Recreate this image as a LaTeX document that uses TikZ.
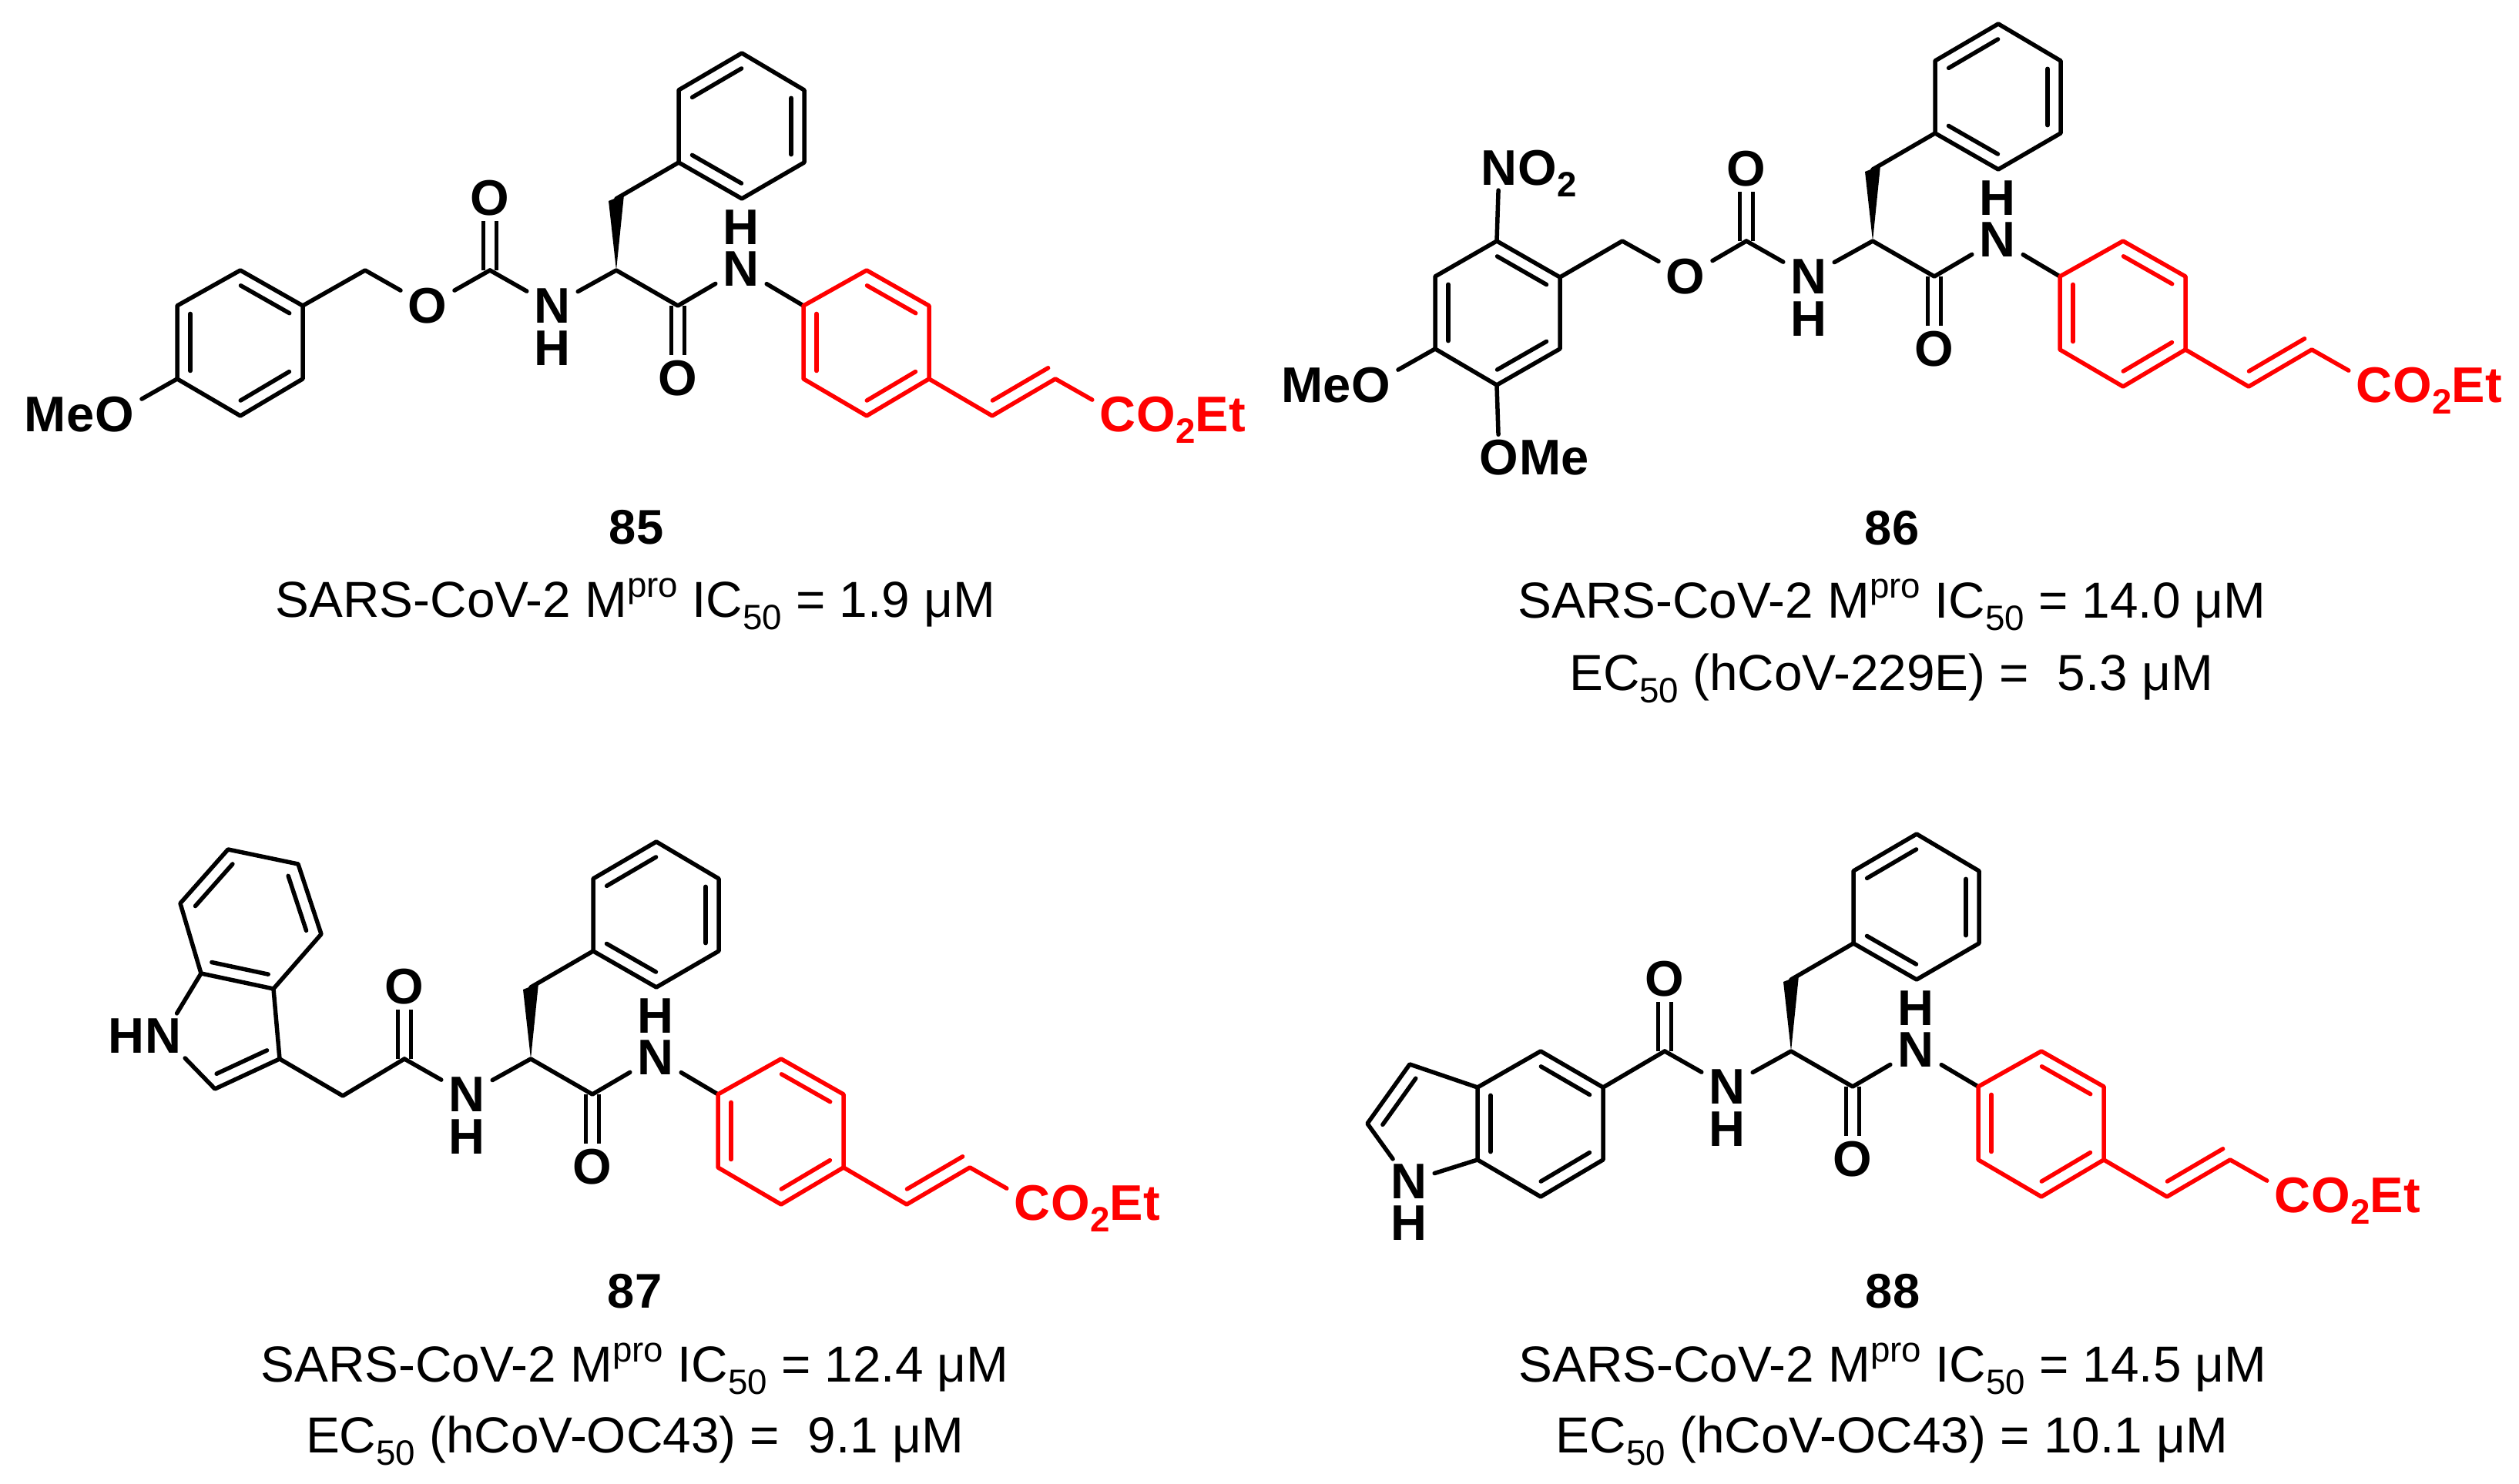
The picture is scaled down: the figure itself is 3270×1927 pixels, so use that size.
\documentclass[tikz,border=0pt]{standalone}
\usepackage{fontspec}
\setmainfont{Liberation Sans}
\usetikzlibrary{calc}
\newcommand{\subs}[1]{\raisebox{-.24em}{\fontsize{13}{14}\selectfont #1}}
\newcommand{\sups}[1]{\raisebox{.4em}{\fontsize{13}{14}\selectfont #1}}
% second line of a double bond, on the left of a->b
\newcommand{\inbond}[3][bond]{\draw [#1] ($(#2)!.11!(#3)!.17cm!90:(#3)$) -- ($(#3)!.11!(#2)!.17cm!-90:(#2)$);}
\tikzset{bond/.style = {line width = .055cm, line cap = round, line join = round}}
\tikzset{redbond/.style = {bond, red}}
\tikzset{twin/.style = {line width = .055cm, double, double distance = .115cm}}
\tikzset{atom/.style = {inner xsep = .09cm, inner ysep = .06cm, font = \fontsize{18.5}{20}\bfseries\selectfont}}
\tikzset{tailr/.style = {atom, inner xsep = 0, anchor = base west, xshift = -.09cm}}
\tikzset{taill/.style = {atom, inner xsep = 0, anchor = base east, xshift = .09cm}}
\tikzset{caption/.style = {inner sep = 0, anchor = base, font = \fontsize{18.7}{20}\selectfont}}
\tikzset{number/.style = {caption, font = \fontsize{18}{20}\bfseries\selectfont}}
\tikzset{pics/phecore/.style = {code = {
      \coordinate (-cc) at (0, 0);
      \coordinate (-ch2) at (0, 93);
      \coordinate (-pa) at (81, 140);
      \coordinate (-pb) at (163, 93);
      \coordinate (-pc) at (244, 140);
      \coordinate (-pd) at (244, 234);
      \coordinate (-pe) at (163, 282);
      \coordinate (-pf) at (81, 234);
      \coordinate (-co) at (80, -46);
      \coordinate (-acyl) at (-164, 0);
      \coordinate (-ra) at (243, -46);
      \coordinate (-rb) at (243, -141);
      \coordinate (-rc) at (325, -189);
      \coordinate (-rd) at (406, -141);
      \coordinate (-re) at (406, -46);
      \coordinate (-rf) at (325, 0);
      \coordinate (-va) at (488, -189);
      \coordinate (-vb) at (570, -141);
      \node [atom] (-oa) at (80, -140) {O};
      \node [atom] (-ob) at (-164, 94) {O};
      \node [atom] (-na) at (162, 2) {N};
      \node [atom] (-ha) at (162, 56) {H};
      \node [atom] (-nb) at (-83, -46) {N};
      \node [atom] (-hb) at (-83, -101) {H};
      \node [atom, red] (-ce) at (651, -187) {C};
      \node [tailr, red] (-et) at (-ce.base east) {O\subs{2}Et};
      \draw [twin] (-co) -- (-oa);
      \draw [twin] (-acyl) -- (-ob);
      \fill ($(-ch2)+(-10, -3)$) -- ($(-ch2)+(10, 5)$) -- (-cc) -- cycle;
      \draw [bond] (-acyl) -- (-nb) -- (-cc) -- (-co) -- (-na) -- (-ra);
      \draw [bond] (-ch2) -- (-pa);
      \draw [bond] (-pa) -- (-pb) -- (-pc) -- (-pd) -- (-pe) -- (-pf) -- cycle;
      \inbond{-pa}{-pb}
      \inbond{-pc}{-pd}
      \inbond{-pe}{-pf}
      \draw [redbond] (-ra) -- (-rb) -- (-rc) -- (-rd) -- (-re) -- (-rf) -- cycle;
      \inbond[redbond]{-ra}{-rb}
      \inbond[redbond]{-rc}{-rd}
      \inbond[redbond]{-re}{-rf}
      \draw [redbond] (-rd) -- (-va) -- (-vb) -- (-ce);
      \draw [redbond] ($(-va)!.11!(-vb)!.17cm!90:(-vb)$) -- ($(-vb)!.01!(-va)!.17cm!-90:(-va)$);
    }}}
\begin{document}
\begin{tikzpicture}[x = .1mm, y = .1mm]
  \useasboundingbox (0, 0) rectangle (3270, 1927);
  % 85
  \begin{scope}[shift = {(800, 1576)}]
    \pic (m85) at (0, 0) {phecore};
    \node [atom] (o85) at (-245, -46) {O};
    \coordinate (ch85) at (-326, 0);
    \coordinate (a85) at (-407, -46);
    \coordinate (b85) at (-488, 0);
    \coordinate (c85) at (-570, -46);
    \coordinate (d85) at (-570, -141);
    \coordinate (e85) at (-488, -189);
    \coordinate (f85) at (-407, -141);
    \node [atom] (meo85) at (-651, -187) {O};
    \node [taill] (me85) at (meo85.base west) {Me};
    \draw [bond] (m85-acyl) -- (o85) -- (ch85) -- (a85);
    \draw [bond] (a85) -- (b85) -- (c85) -- (d85) -- (e85) -- (f85) -- cycle;
    \draw [bond] (d85) -- (meo85);
    \inbond{a85}{b85}
    \inbond{c85}{d85}
    \inbond{e85}{f85}
  \end{scope}
  % 86
  \begin{scope}[shift = {(2431, 1614)}]
    \pic (m86) at (0, 0) {phecore};
    \node [atom] (o86) at (-243, -46) {O};
    \coordinate (ch86) at (-325, 0);
    \coordinate (a86) at (-406, -47);
    \coordinate (b86) at (-488, 0);
    \coordinate (c86) at (-568, -46);
    \coordinate (d86) at (-568, -140);
    \coordinate (e86) at (-488, -187);
    \coordinate (f86) at (-406, -140);
    \node [atom] (n86) at (-485, 95) {N};
    \node [tailr] (no86) at (n86.base east) {O\subs{2}};
    \node [atom] (om86) at (-485, -281) {O};
    \node [tailr] (ome86) at (om86.base east) {Me};
    \node [atom] (meo86) at (-651, -187) {O};
    \node [taill] (me86) at (meo86.base west) {Me};
    \draw [bond] (m86-acyl) -- (o86) -- (ch86) -- (a86);
    \draw [bond] (a86) -- (b86) -- (c86) -- (d86) -- (e86) -- (f86) -- cycle;
    \draw [bond] (b86) -- (n86);
    \draw [bond] (e86) -- (om86);
    \draw [bond] (d86) -- (meo86);
    \inbond{a86}{b86}
    \inbond{c86}{d86}
    \inbond{e86}{f86}
  \end{scope}
  % 87
  \begin{scope}[shift = {(689, 552)}]
    \pic (m87) at (0, 0) {phecore};
    \coordinate (ch87) at (-244, -48);
    \coordinate (a87) at (-326, 0);
    \coordinate (b87) at (-410, -39);
    \node [atom] (n87) at (-477, 30) {N};
    \node [taill] (h87) at (n87.base west) {H};
    \coordinate (c87) at (-428, 111);
    \coordinate (d87) at (-334, 91);
    \coordinate (e87) at (-272, 162);
    \coordinate (f87) at (-302, 253);
    \coordinate (g87) at (-393, 272);
    \coordinate (k87) at (-455, 202);
    \draw [bond] (m87-acyl) -- (ch87) -- (a87) -- (b87) -- (n87) -- (c87) -- (d87) -- (a87);
    \draw [bond] (d87) -- (e87) -- (f87) -- (g87) -- (k87) -- (c87);
    \inbond{b87}{a87}
    \inbond{c87}{d87}
    \inbond{e87}{f87}
    \inbond{g87}{k87}
  \end{scope}
  % 88
  \begin{scope}[shift = {(2325, 562)}]
    \pic (m88) at (0, 0) {phecore};
    \coordinate (a88) at (-244, -47);
    \coordinate (b88) at (-325, 0);
    \coordinate (c88) at (-407, -47);
    \coordinate (d88) at (-407, -141);
    \coordinate (e88) at (-325, -189);
    \coordinate (f88) at (-244, -141);
    \coordinate (g88) at (-495, -17);
    \coordinate (k88) at (-550, -94);
    \node [atom] (n88) at (-496, -169) {N};
    \node [atom] (h88) at (-496, -223) {H};
    \draw [bond] (m88-acyl) -- (a88);
    \draw [bond] (a88) -- (b88) -- (c88) -- (d88) -- (e88) -- (f88) -- cycle;
    \draw [bond] (c88) -- (g88) -- (k88) -- (n88) -- (d88);
    \inbond{a88}{b88}
    \inbond{c88}{d88}
    \inbond{e88}{f88}
    \inbond{g88}{k88}
  \end{scope}
  % captions
  \node [number] (t85) at (826, 1220) {85};
  \node [caption] (u85) at (825, 1125) {SARS-CoV-2 M\sups{pro} IC\subs{50} = 1.9 μM};
  \node [number] (t86) at (2456, 1219) {86};
  \node [caption] (u86) at (2456, 1124) {SARS-CoV-2 M\sups{pro} IC\subs{50} = 14.0 μM};
  \node [caption] (v86) at (2455, 1030) {EC\subs{50} (hCoV-229E) = \ 5.3 μM};
  \node [number] (t87) at (824, 228) {87};
  \node [caption] (u87) at (824, 132) {SARS-CoV-2 M\sups{pro} IC\subs{50} = 12.4 μM};
  \node [caption] (v87) at (824, 40) {EC\subs{50} (hCoV-OC43) = \ 9.1 μM};
  \node [number] (t88) at (2457, 228) {88};
  \node [caption] (u88) at (2457, 132) {SARS-CoV-2 M\sups{pro} IC\subs{50} = 14.5 μM};
  \node [caption] (v88) at (2456, 40) {EC\subs{50} (hCoV-OC43) = 10.1 μM};
\end{tikzpicture}
\end{document}
